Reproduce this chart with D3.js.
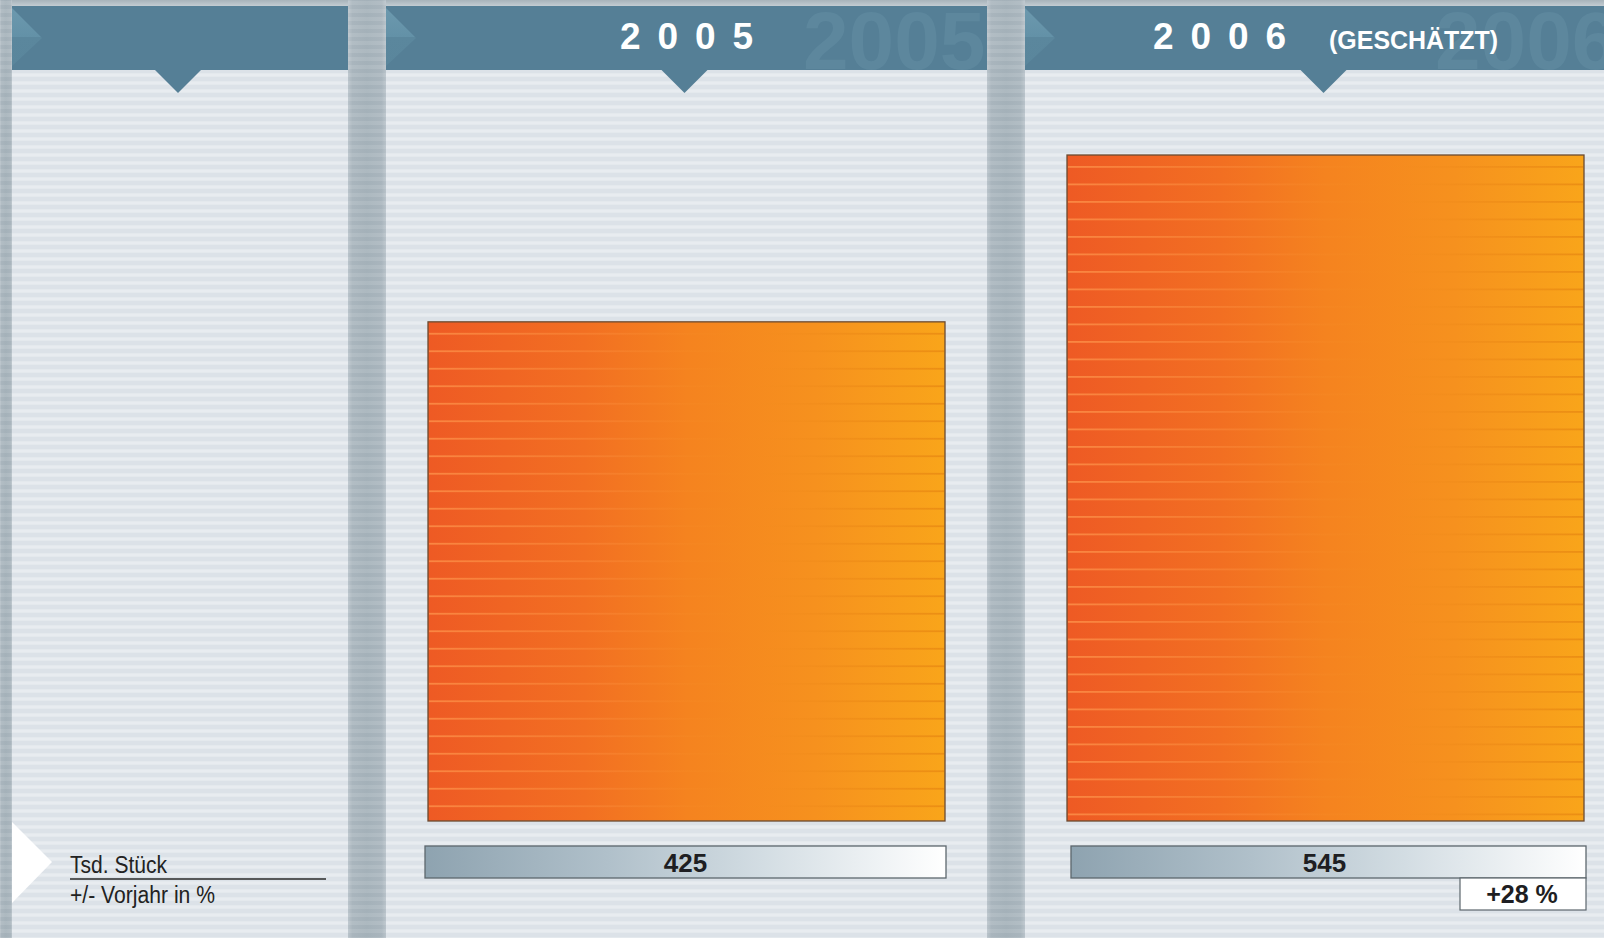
<!DOCTYPE html>
<html><head><meta charset="utf-8">
<script src="https://cdn.jsdelivr.net/npm/d3@7"></script>
<style>html,body{margin:0;padding:0;background:#dfe5ea;overflow:hidden}</style>
</head><body><svg id="c" width="1604" height="938"></svg>
<script>
// ---- data ----
const years = ["2005", "2006"];
const values = [425, 545];
const valueLabels = ["425", "545"];
const changes = [null, "+28 %"];
const notes = ["", "(GESCHÄTZT)"];
const unitLabel = "Tsd. Stück";
const changeLabel = "+/- Vorjahr in %";
const scaleMin = 66; // value-axis baseline used by the original graphic

// ---- layout ----
const W = 1604, H = 938;
const svg = d3.select("#c");
const defs = svg.append("defs");
const headerTop = 6, headerBottom = 70;
const labelPanel = [12, 348];
const x = d3.scaleBand().domain(years).range([386, 1626]).paddingInner(38 / 639);
const y = d3.scaleLinear().domain([scaleMin, d3.max(values)]).range([821, 155]);

// stripes pattern
const pat = defs.append("pattern").attr("id", "stripes").attr("patternUnits", "userSpaceOnUse")
  .attr("width", 8).attr("height", 8);
pat.append("rect").attr("width", 8).attr("height", 8).attr("fill", "#dce2e8");
pat.append("rect").attr("y", 1).attr("width", 8).attr("height", 4).attr("fill", "#e4e9ed");
pat.append("rect").attr("y", 2).attr("width", 8).attr("height", 2).attr("fill", "#e8ecf0");

const pat2 = defs.append("pattern").attr("id", "sepStripes").attr("patternUnits", "userSpaceOnUse")
  .attr("width", 8).attr("height", 8);
pat2.append("rect").attr("y", 1).attr("width", 8).attr("height", 4).attr("fill", "#ffffff").attr("opacity", 0.1);

function grad(id, stops, vertical) {
  const g = defs.append("linearGradient").attr("id", id)
    .attr("x1", 0).attr("y1", 0).attr("x2", vertical ? 0 : 1).attr("y2", vertical ? 1 : 0);
  stops.forEach(s => g.append("stop").attr("offset", s[0]).attr("stop-color", s[1]).attr("stop-opacity", s[2] == null ? 1 : s[2]));
}
grad("sepGrad", [[0, "#b9c3ca"], [0.12, "#a9b5bd"], [0.5, "#a4b1b9"], [0.88, "#a9b5bd"], [1, "#b9c3ca"]]);
grad("topGrad", [[0, "#a7b3ba"], [1, "#c3ccd2"]], true);
grad("barGrad", [[0, "#ee5a24"], [0.3, "#f26f22"], [0.5, "#f5831f"], [0.75, "#f6911e"], [1, "#f9a51a"]]);
grad("lineGrad", [[0, "#ff9a50", 0.7], [0.35, "#fb8e3c", 0.4], [0.6, "#f5901f", 0.05], [0.8, "#e58012", 0.3], [1, "#e07c0e", 0.55]]);
grad("valGrad", [[0, "#8ea3b0"], [0.35, "#b0c0ca"], [0.65, "#d3dde3"], [1, "#ffffff"]]);
grad("arrowGrad", [[0, "#6c99ae"], [0.5, "#6391a7"], [0.5, "#5b879d"], [1, "#5a869c"]], true);

// background gray (separators)
svg.append("rect").attr("width", W).attr("height", H).attr("fill", "#aab6bd");
const seps = [[0, 12], [labelPanel[1], x("2005")], [x("2005") + x.bandwidth(), x("2006")]];
seps.forEach(s => {
  svg.append("rect").attr("x", s[0]).attr("y", 0).attr("width", s[1] - s[0]).attr("height", H).attr("fill", "url(#sepGrad)");
  svg.append("rect").attr("x", s[0]).attr("y", 0).attr("width", s[1] - s[0]).attr("height", H).attr("fill", "url(#sepStripes)");
});

// panels
const panels = [{ key: "", x0: labelPanel[0], x1: labelPanel[1] }]
  .concat(years.map(yr => ({ key: yr, x0: x(yr), x1: x(yr) + x.bandwidth() })));

panels.forEach((p, i) => {
  const g = svg.append("g");
  g.append("rect").attr("x", p.x0).attr("y", 0).attr("width", p.x1 - p.x0).attr("height", headerTop).attr("fill", "url(#topGrad)");
  g.append("rect").attr("x", p.x0).attr("y", headerTop).attr("width", p.x1 - p.x0).attr("height", H - headerTop).attr("fill", "url(#stripes)");
  g.append("rect").attr("x", p.x0).attr("y", headerTop).attr("width", p.x1 - p.x0).attr("height", headerBottom - headerTop).attr("fill", "#557f96");
  // left arrow in header
  g.append("path").attr("d", `M${p.x0},${headerTop + 2}L${p.x0 + 30},${(headerTop + headerBottom) / 2}L${p.x0},${headerBottom - 4}Z`)
    .attr("fill", "url(#arrowGrad)");
  // pointer under header
  const cx = (p.x0 + p.x1) / 2 - 2;
  g.append("path").attr("d", `M${cx - 24},${headerBottom - 1}L${cx + 24},${headerBottom - 1}L${cx},${headerBottom + 23}Z`).attr("fill", "#557f96");
  if (p.key) {
    const k = years.indexOf(p.key);
    const cid = "clip" + k;
    defs.append("clipPath").attr("id", cid).append("rect")
      .attr("x", p.x0).attr("y", headerTop).attr("width", Math.min(p.x1, W) - p.x0).attr("height", headerBottom - headerTop);
    // ghost year
    g.append("text").attr("clip-path", `url(#${cid})`)
      .attr("x", k === 0 ? p.x0 + 417 : p.x0 + 410).attr("y", headerBottom - 1)
      .attr("font-family", "Liberation Sans, Arial, sans-serif").attr("font-weight", "bold")
      .attr("font-size", 82).attr("fill", "#6893a8").attr("opacity", 0.42).text(p.key);
    // spaced year digits
    const adv = 37.5, digW = 20.6;
    const yearW = adv * (p.key.length - 1) + digW;
    const noteGap = 43, noteW = 169;
    const groupW = yearW + (notes[k] ? noteGap + noteW : 0);
    const start = (p.x0 + p.x1) / 2 - groupW / 2;
    p.key.split("").forEach((ch, j) => {
      g.append("text").attr("x", start + j * adv).attr("y", 49)
        .attr("font-family", "Liberation Sans, Arial, sans-serif").attr("font-weight", "bold")
        .attr("font-size", 37).attr("fill", "#ffffff").text(ch);
    });
    if (notes[k]) {
      g.append("text").attr("x", start + yearW + noteGap).attr("y", 49)
        .attr("font-family", "Liberation Sans, Arial, sans-serif").attr("font-weight", "bold")
        .attr("font-size", 25).attr("fill", "#ffffff")
        .attr("textLength", noteW).attr("lengthAdjust", "spacingAndGlyphs").text(notes[k]);
    }
  }
});

// bars
const inset = 42, barW = x.bandwidth() - 2 * inset;
years.forEach((yr, k) => {
  const bx = x(yr) + inset, top = y(values[k]), bottom = y(scaleMin);
  const g = svg.append("g");
  g.append("rect").attr("x", bx).attr("y", top).attr("width", barW).attr("height", bottom - top)
    .attr("fill", "url(#barGrad)").attr("stroke", "#6a4a30").attr("stroke-width", 1.3);
  d3.range(top + 11, bottom - 4, 17.5).forEach(ly => {
    g.append("rect").attr("x", bx + 1).attr("y", ly).attr("width", barW - 2).attr("height", 1.8).attr("fill", "url(#lineGrad)");
  });
  // value box
  const vx = x(yr) + (k === 0 ? 39 : 46), vw = k === 0 ? 521 : 515;
  g.append("rect").attr("x", vx).attr("y", 846).attr("width", vw).attr("height", 32)
    .attr("fill", "url(#valGrad)").attr("stroke", "#5d676d").attr("stroke-width", 1.3);
  g.append("text").attr("x", vx + vw / 2 - (k === 0 ? 0 : 4)).attr("y", 872).attr("text-anchor", "middle")
    .attr("font-family", "Liberation Sans, Arial, sans-serif").attr("font-weight", "bold")
    .attr("font-size", 26).attr("fill", "#1e1e22").text(valueLabels[k]);
  if (changes[k]) {
    const cx0 = vx + vw - 126;
    g.append("rect").attr("x", cx0).attr("y", 878).attr("width", 126).attr("height", 32)
      .attr("fill", "#ffffff").attr("stroke", "#5d676d").attr("stroke-width", 1.2);
    g.append("text").attr("x", cx0 + 62).attr("y", 903).attr("text-anchor", "middle")
      .attr("font-family", "Liberation Sans, Arial, sans-serif").attr("font-weight", "bold")
      .attr("font-size", 25).attr("fill", "#1e1e22").text(changes[k]);
  }
});

// label panel legend
const lg = svg.append("g");
lg.append("path").attr("d", `M${labelPanel[0]},822L${labelPanel[0] + 40},862L${labelPanel[0]},903Z`).attr("fill", "#ffffff");
lg.append("text").attr("x", 70).attr("y", 873)
  .attr("font-family", "Liberation Sans, Arial, sans-serif").attr("font-size", 23).attr("fill", "#222")
  .attr("textLength", 97).attr("lengthAdjust", "spacingAndGlyphs").text(unitLabel);
lg.append("line").attr("x1", 70).attr("x2", 326).attr("y1", 879).attr("y2", 879).attr("stroke", "#2a2a2a").attr("stroke-width", 1.5);
lg.append("text").attr("x", 70).attr("y", 903)
  .attr("font-family", "Liberation Sans, Arial, sans-serif").attr("font-size", 23).attr("fill", "#222")
  .attr("textLength", 145).attr("lengthAdjust", "spacingAndGlyphs").text(changeLabel);
</script></body></html>
